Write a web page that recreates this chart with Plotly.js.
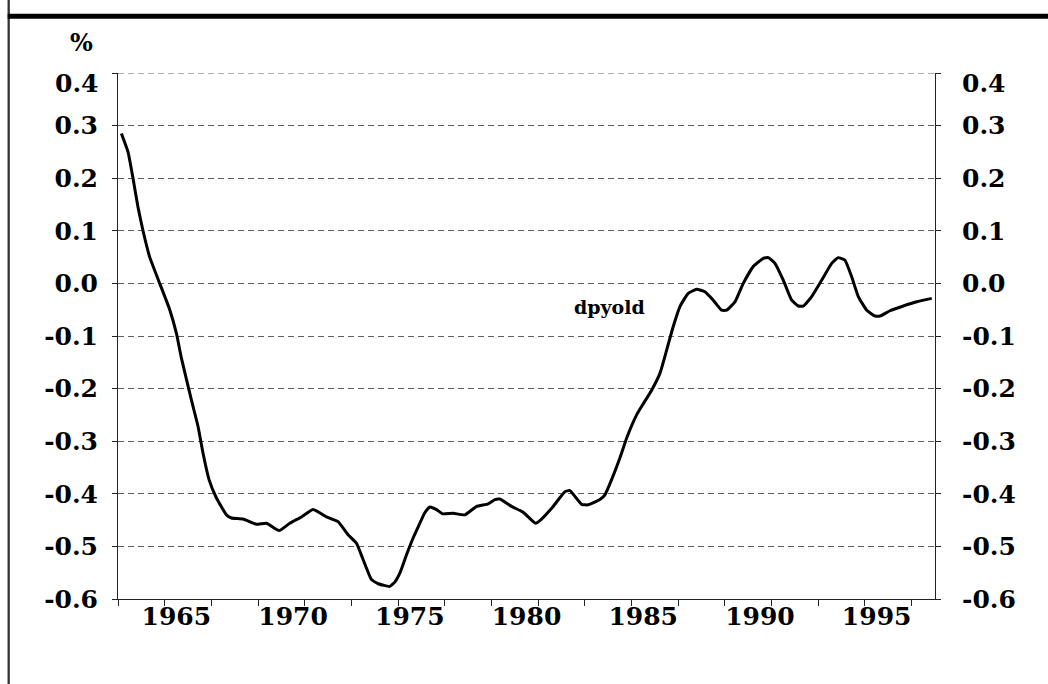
<!DOCTYPE html>
<html>
<head>
<meta charset="utf-8">
<script src="https://cdn.plot.ly/plotly-3.0.1.min.js"></script>
<style>
  html, body { margin: 0; padding: 0; background: #ffffff; }
  #chart { width: 1048px; height: 684px; }
</style>
</head>
<body>
<div id="chart"></div>
<script>
var obsYear = [
  1963.146, 1963.429, 1963.643, 1963.857, 1964.071, 1964.359, 1964.787, 1965.216,
  1965.503, 1965.717, 1966.146, 1966.429, 1966.643, 1966.900, 1967.217, 1967.646,
  1967.860, 1968.357, 1968.931, 1969.360, 1969.900, 1970.359, 1970.860, 1971.357,
  1971.931, 1972.429, 1972.857, 1973.217, 1973.500, 1973.860, 1974.143, 1974.644,
  1974.859, 1975.073, 1975.360, 1975.643, 1975.930, 1976.144, 1976.359, 1976.646,
  1976.903, 1977.357, 1977.859, 1978.360, 1978.857, 1979.144, 1979.359, 1979.860,
  1980.357, 1980.889, 1981.146, 1981.643, 1982.144, 1982.359, 1982.860, 1983.143,
  1983.644, 1983.859, 1984.146, 1984.501, 1984.800, 1985.217, 1985.500, 1985.860,
  1986.216, 1986.503, 1986.786, 1987.073, 1987.429, 1987.789, 1988.144, 1988.500,
  1988.860, 1989.074, 1989.430, 1989.786, 1990.214, 1990.643, 1990.857, 1991.144,
  1991.500, 1991.860, 1992.143, 1992.357, 1992.717, 1993.146, 1993.574, 1993.857,
  1994.144, 1994.430, 1994.714, 1995.074, 1995.430, 1995.644, 1996.073, 1996.643,
  1997.217, 1997.860
];
// Series dpyold (%)
var dpyold = [
  0.285, 0.250, 0.200, 0.145, 0.100, 0.050, 0.000, -0.050,
  -0.095, -0.142, -0.222, -0.272, -0.323, -0.373, -0.408, -0.440,
  -0.446, -0.448, -0.458, -0.456, -0.470, -0.456, -0.444, -0.430,
  -0.444, -0.453, -0.478, -0.494, -0.525, -0.563, -0.571, -0.576,
  -0.568, -0.551, -0.516, -0.484, -0.456, -0.436, -0.425, -0.430,
  -0.438, -0.437, -0.440, -0.424, -0.419, -0.411, -0.410, -0.424,
  -0.435, -0.456, -0.448, -0.424, -0.396, -0.394, -0.420, -0.421,
  -0.411, -0.402, -0.373, -0.332, -0.293, -0.250, -0.229, -0.203,
  -0.171, -0.127, -0.082, -0.044, -0.019, -0.011, -0.016, -0.032,
  -0.051, -0.051, -0.035, 0.000, 0.032, 0.0475, 0.049, 0.038,
  0.006, -0.032, -0.043, -0.043, -0.025, 0.006, 0.038, 0.049,
  0.044, 0.0125, -0.025, -0.051, -0.062, -0.062, -0.052, -0.043,
  -0.035, -0.0285
];
// Axis labels
var yearLabels = ['1965', '1970', '1975', '1980', '1985', '1990', '1995'];
var yearLabelPos = [1965.5, 1970.5, 1975.5, 1980.5, 1985.5, 1990.5, 1995.5];
var yTickVals = [-0.6, -0.5, -0.4, -0.3, -0.2, -0.1, 0.0, 0.1, 0.2, 0.3, 0.4];
var yTickText = ['-0.6', '-0.5', '-0.4', '-0.3', '-0.2', '-0.1', '0.0', '0.1', '0.2', '0.3', ''];
var yTop = 0.4;
var topTickText = '0.4';
var seriesName = 'dpyold';
var unitLabel = '%';

var FONT = 'DejaVu Serif, Liberation Serif, serif';
var tickFont = { family: FONT, size: 25, color: '#000', weight: 'bold' };
var GRID = '#606060';

var trace = {
  x: obsYear,
  y: dpyold,
  type: 'scatter',
  mode: 'lines',
  line: { color: '#000000', width: 3, shape: 'spline', smoothing: 0.4 },
  hoverinfo: 'x+y',
  showlegend: false
};

var layout = {
  width: 1048,
  height: 684,
  margin: { l: 118, r: 113, t: 73, b: 85, pad: 0 },
  paper_bgcolor: '#ffffff',
  plot_bgcolor: '#ffffff',
  showlegend: false,
  xaxis: {
    range: [1963, 1998],
    tickmode: 'array',
    tickvals: yearLabelPos,
    ticktext: yearLabels,
    ticks: '',
    tickfont: tickFont,
    ticklabelstandoff: -5,
    showgrid: false,
    zeroline: false,
    showline: true,
    linecolor: '#222',
    linewidth: 1,
    minor: { tick0: 1963, dtick: 2, ticks: 'outside', ticklen: 6, tickcolor: '#222', tickwidth: 1, showgrid: false },
    fixedrange: true
  },
  yaxis: {
    range: [-0.6, yTop],
    tickmode: 'array',
    tickvals: yTickVals,
    ticktext: yTickText,
    ticks: 'outside',
    ticklen: 5,
    tickcolor: '#222',
    tickwidth: 1,
    tickfont: tickFont,
    ticklabelstandoff: 9,
    showgrid: true,
    gridcolor: GRID,
    gridwidth: 1,
    griddash: '6px,4px',
    zeroline: false,
    showline: true,
    linecolor: '#222',
    linewidth: 1,
    fixedrange: true
  },
  yaxis2: {
    overlaying: 'y',
    side: 'right',
    range: [-0.6, yTop],
    tickmode: 'array',
    tickvals: yTickVals,
    ticktext: yTickText,
    ticks: 'outside',
    ticklen: 5,
    tickcolor: '#222',
    tickwidth: 1,
    tickfont: tickFont,
    ticklabelstandoff: 16,
    showgrid: false,
    zeroline: false,
    showline: true,
    linecolor: '#222',
    linewidth: 1,
    fixedrange: true
  },
  annotations: [
    { xref: 'paper', yref: 'paper', x: -0.0448, y: 1.0576, text: unitLabel, showarrow: false,
      xanchor: 'center', yanchor: 'middle', font: { family: FONT, size: 24, color: '#000', weight: 'bold' } },
    { xref: 'x', yref: 'y', x: 1984.07, y: -0.044, text: seriesName, showarrow: false,
      xanchor: 'center', yanchor: 'middle', font: { family: FONT, size: 19, color: '#000', weight: 'bold' } },
    { xref: 'paper', yref: 'y', x: -0.0212, y: yTop, yshift: -10, text: topTickText, showarrow: false,
      xanchor: 'right', yanchor: 'middle', font: tickFont },
    { xref: 'paper', yref: 'y', x: 1.0302, y: yTop, yshift: -10, text: topTickText, showarrow: false,
      xanchor: 'left', yanchor: 'middle', font: tickFont }
  ],
  shapes: [
    // top gridline (Plotly drops the grid line at the range edge)
    { type: 'line', xref: 'paper', yref: 'y', x0: 0, x1: 1, y0: yTop, y1: yTop,
      line: { color: GRID, width: 1, dash: '6px,4px' }, layer: 'below' },
    // outer frame: left rule and thick top rule
    { type: 'line', xref: 'paper', yref: 'paper', x0: -0.1338, x1: -0.1338, y0: 1.139, y1: -0.162,
      line: { color: '#333', width: 2.3 } },
    { type: 'line', xref: 'paper', yref: 'paper', x0: -0.1350, x1: 1.140, y0: 1.1081, y1: 1.1081,
      line: { color: '#000', width: 5 } }
  ]
};

var data = [trace, { x: [1963], y: [0], yaxis: 'y2', type: 'scatter', mode: 'markers',
  marker: { opacity: 0 }, hoverinfo: 'skip', showlegend: false }];

Plotly.newPlot('chart', data, layout, { displayModeBar: false, staticPlot: true });
</script>
</body>
</html>
